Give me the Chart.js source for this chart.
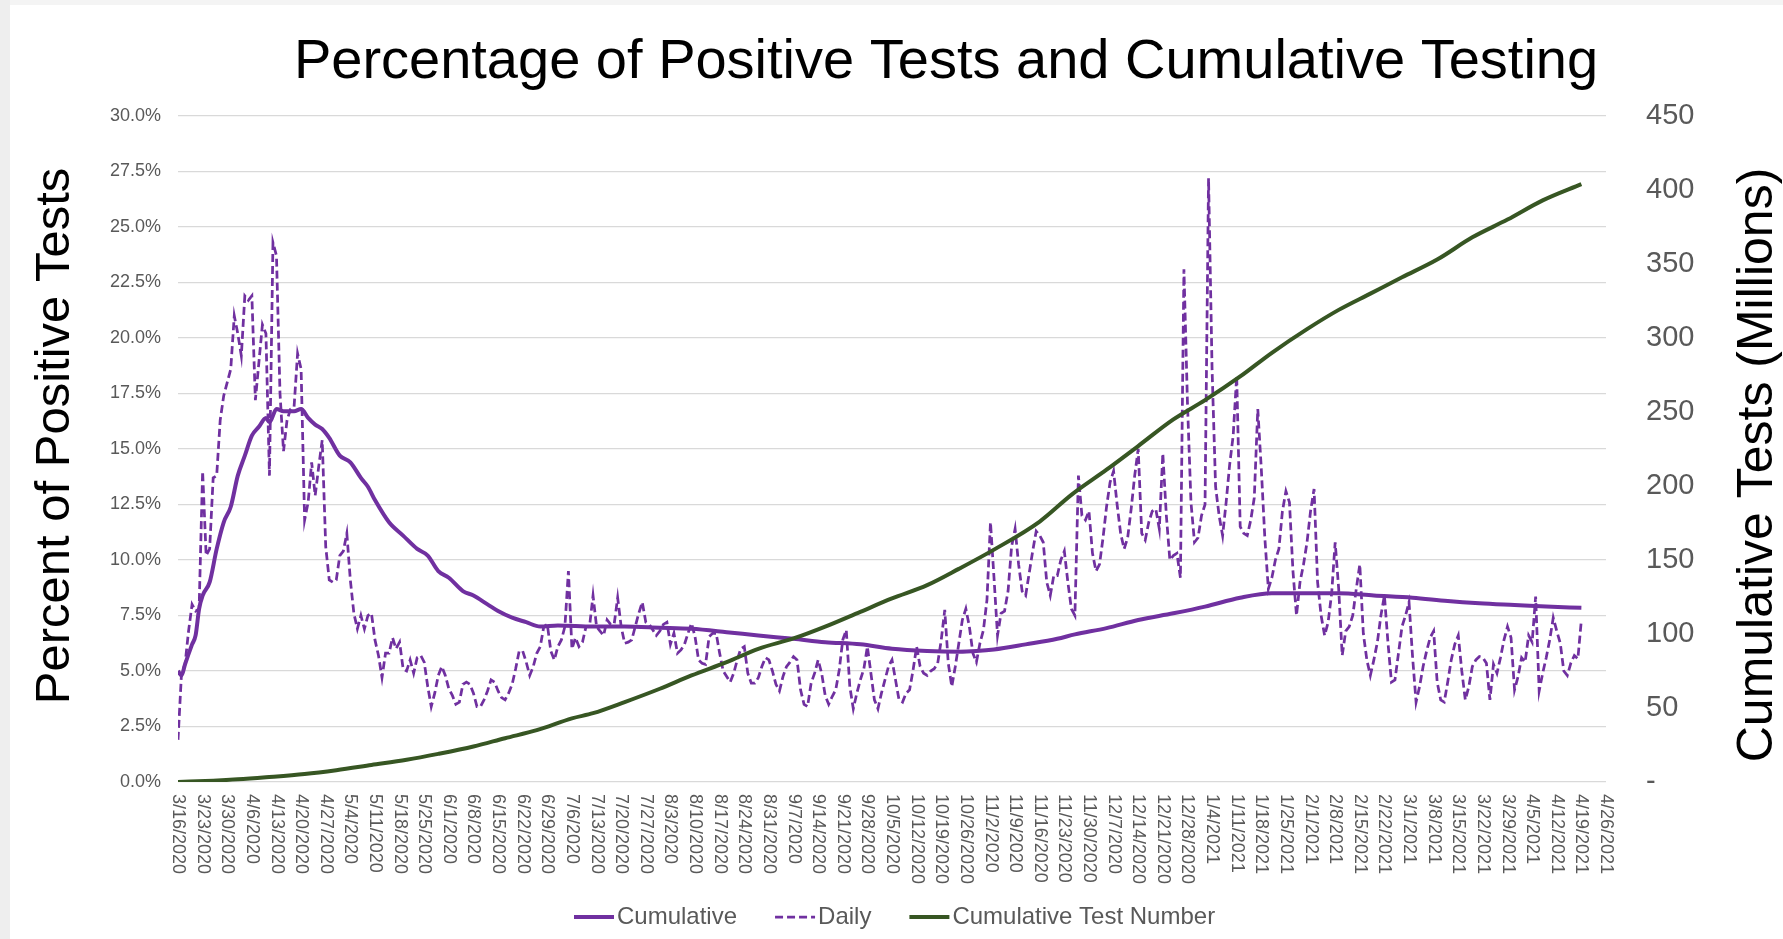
<!DOCTYPE html>
<html>
<head>
<meta charset="utf-8">
<title>Percentage of Positive Tests and Cumulative Testing</title>
<script src="https://cdn.jsdelivr.net/npm/chart.js@4.4.1/dist/chart.umd.min.js"></script>
<style>
  html, body { margin: 0; padding: 0; background: #fff; }
  canvas { display: block; }
</style>
</head>
<body>
<canvas id="testingChart" width="1783" height="939"></canvas>
<script>
const chartTitle = "Percentage of Positive Tests and Cumulative Testing";
const leftTitle = "Percent of Positive Tests";
const rightTitle = "Cumulative Tests (Millions)";

// weekly date labels, one every 7 days starting at day 0 = 3/16/2020
const tickLabels = [
  "3/16/2020", "3/23/2020", "3/30/2020", "4/6/2020", "4/13/2020", "4/20/2020", "4/27/2020",
  "5/4/2020", "5/11/2020", "5/18/2020", "5/25/2020", "6/1/2020", "6/8/2020", "6/15/2020",
  "6/22/2020", "6/29/2020", "7/6/2020", "7/13/2020", "7/20/2020", "7/27/2020", "8/3/2020",
  "8/10/2020", "8/17/2020", "8/24/2020", "8/31/2020", "9/7/2020", "9/14/2020", "9/21/2020",
  "9/28/2020", "10/5/2020", "10/12/2020", "10/19/2020", "10/26/2020", "11/2/2020", "11/9/2020",
  "11/16/2020", "11/23/2020", "11/30/2020", "12/7/2020", "12/14/2020", "12/21/2020", "12/28/2020",
  "1/4/2021", "1/11/2021", "1/18/2021", "1/25/2021", "2/1/2021", "2/8/2021", "2/15/2021",
  "2/22/2021", "3/1/2021", "3/8/2021", "3/15/2021", "3/22/2021", "3/29/2021", "4/5/2021",
  "4/12/2021", "4/19/2021", "4/26/2021"
];

// daily percent positive, one value per day from 3/16/2020 (day 0) to 4/19/2021 (day 399)
const dailyPct = [
  1.9, 4.9, 5.3, 6.8, 8.0, 7.7, 7.8, 14.0, 10.2, 10.5,
  13.7, 13.8, 16.3, 17.4, 18.0, 18.6, 21.0, 20.2, 19.2, 21.9,
  21.7, 21.9, 17.2, 18.9, 20.6, 20.2, 13.8, 24.3, 23.7, 17.5,
  14.9, 16.3, 16.8, 16.9, 19.3, 18.6, 11.8, 12.6, 14.4, 12.9,
  14.2, 15.4, 10.6, 9.1, 9.0, 9.1, 10.2, 10.4, 11.2, 9.1,
  7.6, 6.9, 7.5, 6.9, 7.5, 7.6, 6.4, 5.7, 4.7, 5.8,
  5.8, 6.5, 6.0, 6.3, 5.1, 5.0, 5.5, 4.9, 5.6, 5.7,
  5.4, 4.3, 3.4, 4.0, 4.8, 5.2, 4.8, 4.2, 3.9, 3.5,
  3.6, 4.4, 4.5, 4.4, 4.0, 3.4, 3.4, 3.7, 4.1, 4.6,
  4.5, 4.1, 3.8, 3.7, 4.0, 4.4, 5.1, 5.9, 5.9, 5.4,
  4.8, 5.2, 5.8, 6.1, 7.0, 7.1, 5.9, 5.5, 6.1, 6.4,
  7.0, 9.5, 6.0, 6.5, 6.1, 6.3, 7.0, 7.0, 8.4, 7.0,
  6.8, 6.6, 7.3, 7.1, 7.1, 8.3, 7.0, 6.25, 6.3, 6.4,
  7.0, 7.6, 8.1, 7.2, 7.1, 6.85, 6.6, 6.8, 7.1, 7.2,
  6.2, 6.7, 5.8, 5.95, 6.2, 6.7, 7.15, 6.55, 5.5, 5.35,
  5.3, 6.55, 6.7, 6.7, 5.8, 5.0, 4.75, 4.5, 4.9, 5.5,
  6.0, 6.1, 4.9, 4.45, 4.45, 4.7, 5.2, 5.6, 5.5, 5.0,
  4.4, 4.1, 4.75, 5.2, 5.4, 5.65, 5.5, 4.15, 3.5, 3.4,
  4.45, 4.9, 5.5, 4.9, 3.9, 3.5, 3.85, 4.15, 5.05, 6.4,
  6.85, 4.3, 3.3, 4.0, 4.6, 5.1, 6.1, 4.9, 3.7, 3.3,
  4.0, 4.6, 5.2, 5.5, 4.6, 3.7, 3.6, 4.0, 4.15, 5.05,
  6.1, 5.2, 4.9, 4.8, 5.0, 5.1, 5.35, 6.4, 7.75, 5.35,
  4.3, 5.2, 6.25, 7.3, 7.8, 7.0, 5.8, 5.4, 6.25, 6.85,
  8.2, 11.7, 9.2, 6.6, 7.6, 7.7, 8.6, 10.6, 11.4, 9.8,
  8.6, 8.4, 9.4, 10.4, 11.3, 11.1, 10.8, 9.0, 8.4, 9.3,
  9.3, 10.0, 10.4, 9.0, 7.8, 7.5, 13.8, 12.0, 11.8, 12.2,
  10.3, 9.5, 9.8, 11.0, 12.4, 13.5, 14.0, 12.5, 11.2, 10.5,
  11.0, 12.3, 13.8, 15.0, 11.2, 10.9, 11.7, 12.2, 12.3, 11.4,
  14.8, 12.0, 10.0, 10.2, 10.3, 9.2, 23.1, 17.1, 12.6, 10.8,
  11.0, 12.0, 12.5, 27.2, 18.6, 13.3, 12.0, 11.1, 12.6, 14.3,
  15.6, 18.3, 11.5, 11.2, 11.1, 11.8, 12.8, 16.8, 14.1, 11.0,
  8.7, 9.2, 10.0, 10.5, 12.2, 13.1, 12.6, 9.5, 7.5, 9.0,
  9.8, 10.8, 12.2, 13.2, 9.0, 7.5, 6.6, 7.2, 8.5, 10.8,
  8.7, 5.7, 6.8, 7.0, 7.5, 8.7, 9.8, 6.7, 5.5, 4.8,
  5.5, 6.3, 7.5, 8.4, 6.3, 4.5, 4.6, 5.8, 7.0, 7.5,
  8.1, 5.65, 3.6, 4.3, 5.2, 5.9, 6.5, 6.8, 4.5, 3.7,
  3.6, 4.5, 5.5, 6.2, 6.6, 5.0, 3.7, 4.3, 5.2, 5.5,
  5.65, 5.6, 5.35, 3.7, 5.3, 4.9, 5.6, 6.4, 7.0, 6.5,
  4.15, 4.75, 5.6, 5.4, 6.6, 6.3, 8.35, 4.1, 4.9, 5.6,
  6.4, 7.4, 6.8, 6.25, 5.0, 4.8, 5.35, 5.7, 5.55, 7.3
];

// cumulative percent positive, read at these days
const cumDays = [0, 1, 2, 4, 5, 6, 7, 9, 11, 13, 15, 17, 19, 21, 23, 25, 26, 28, 30, 33,
  35, 37, 39, 41, 43, 46, 49, 52, 54, 56, 60, 64, 68, 71, 74, 77, 81, 84, 88, 91,
  95, 99, 103, 108, 118, 127, 137, 146, 156, 165, 175, 184, 194, 203, 213, 222, 227, 232, 241, 250,
  255, 264, 273, 283, 292, 302, 311, 321, 330, 340, 351, 361, 370, 380, 389, 399];
const cumPct = [5.0, 4.8, 5.3, 6.2, 6.6, 7.8, 8.4, 9.0, 10.5, 11.7, 12.4, 13.8, 14.7, 15.6, 16.0, 16.4, 16.2, 16.8, 16.7, 16.7,
  16.8, 16.4, 16.1, 15.9, 15.5, 14.7, 14.4, 13.7, 13.3, 12.7, 11.7, 11.1, 10.5, 10.2, 9.5, 9.2, 8.6, 8.4, 8.0, 7.7,
  7.4, 7.2, 7.0, 7.05, 7.0, 7.0, 6.95, 6.9, 6.75, 6.6, 6.45, 6.3, 6.2, 6.0, 5.9, 5.87, 5.9, 5.97, 6.2, 6.45,
  6.65, 6.93, 7.3, 7.6, 7.9, 8.3, 8.5, 8.5, 8.5, 8.4, 8.3, 8.15, 8.05, 7.97, 7.9, 7.85];

// cumulative tests in millions, read at these days
const testDays = [0, 10, 17, 25, 36, 45, 55, 65, 74, 84, 93, 102, 112, 118, 127, 137, 146, 156, 165, 175,
  184, 194, 203, 213, 222, 232, 245, 254, 264, 273, 283, 292, 302, 311, 321, 330, 339, 348, 358, 368,
  378, 388, 399];
const testMillions = [0, 0.9, 1.8, 3.2, 5.4, 8, 11.5, 15, 19, 24, 29.6, 35, 43, 46.5, 54, 63, 72, 81, 90, 97,
  105, 115, 124, 133, 144, 157, 176, 194, 211, 227, 245, 258, 274, 290, 306, 319, 330, 341, 353, 368,
  380, 393, 404];

const PURPLE = "#7030A0";
const GREEN = "#375623";
const GREY = "#595959";
const FONT = '"Liberation Sans", Arial, sans-serif';

Chart.defaults.font.family = FONT;

function toPoints(xs, ys) {
  return ys.map((y, i) => ({ x: xs[i], y: y }));
}

// slide edge: thin grey strips on the left and top like the screenshot
const slideEdge = {
  id: "slideEdge",
  beforeDraw(chart) {
    const ctx = chart.ctx;
    ctx.save();
    ctx.fillStyle = "#fff";
    ctx.fillRect(0, 0, chart.width, chart.height);
    ctx.fillStyle = "#eeeeee";
    ctx.fillRect(0, 0, 10, chart.height);
    ctx.fillStyle = "#f4f4f4";
    ctx.fillRect(10, 0, chart.width - 10, 5);
    ctx.restore();
  }
};

// titles, rotated date labels and legend drawn straight on the canvas
const decorations = {
  id: "decorations",
  afterDraw(chart) {
    const ctx = chart.ctx;
    const area = chart.chartArea;
    const xScale = chart.scales.x;
    ctx.save();

    ctx.fillStyle = "#000";
    ctx.font = "56px " + FONT;
    ctx.textAlign = "center";
    ctx.textBaseline = "alphabetic";
    ctx.fillText(chartTitle, 946, 78);

    ctx.font = "49px " + FONT;
    ctx.textBaseline = "middle";
    ctx.save();
    ctx.translate(55, 436);
    ctx.rotate(-Math.PI / 2);
    ctx.fillText(leftTitle, 0, 0);
    ctx.restore();
    ctx.font = "50px " + FONT;
    ctx.save();
    ctx.translate(1758, 465);
    ctx.rotate(-Math.PI / 2);
    ctx.fillText(rightTitle, 0, 0);
    ctx.restore();

    // date labels read top to bottom
    ctx.fillStyle = GREY;
    ctx.font = "18px " + FONT;
    ctx.textAlign = "left";
    tickLabels.forEach((lab, i) => {
      const px = xScale.getPixelForValue(i * 7);
      ctx.save();
      ctx.translate(px, area.bottom + 12);
      ctx.rotate(Math.PI / 2);
      ctx.fillText(lab, 0, 0);
      ctx.restore();
    });

    // legend
    ctx.font = "24px " + FONT;
    let lx = 574;
    const ly = 917;
    chart.data.datasets.forEach((ds) => {
      ctx.strokeStyle = ds.borderColor;
      ctx.lineWidth = ds.borderWidth;
      ctx.setLineDash(ds.borderDash || []);
      ctx.beginPath();
      ctx.moveTo(lx, ly);
      ctx.lineTo(lx + 40, ly);
      ctx.stroke();
      ctx.setLineDash([]);
      ctx.fillStyle = GREY;
      ctx.fillText(ds.label, lx + 43, ly);
      lx += 43 + ctx.measureText(ds.label).width + 38;
    });

    ctx.restore();
  }
};

const config = {
  type: "line",
  data: {
    datasets: [
      {
        label: "Cumulative",
        data: toPoints(cumDays, cumPct),
        borderColor: PURPLE,
        borderWidth: 4,
        cubicInterpolationMode: "monotone",
        yAxisID: "y",
        order: 1
      },
      {
        label: "Daily",
        data: dailyPct.map((v, i) => ({ x: i, y: v })),
        borderColor: PURPLE,
        borderWidth: 2.75,
        borderDash: [8, 4],
        tension: 0,
        yAxisID: "y",
        order: 2
      },
      {
        label: "Cumulative Test Number",
        data: toPoints(testDays, testMillions),
        borderColor: GREEN,
        borderWidth: 4,
        cubicInterpolationMode: "monotone",
        yAxisID: "y1",
        order: 0
      }
    ]
  },
  options: {
    responsive: false,
    animation: false,
    devicePixelRatio: 1,
    layout: { padding: { top: 116, left: 0, right: 0, bottom: 0 } },
    elements: { point: { radius: 0 } },
    plugins: {
      legend: { display: false },
      title: { display: false },
      tooltip: { enabled: false }
    },
    scales: {
      x: {
        type: "linear",
        min: 0,
        max: 406,
        grid: { display: false },
        border: { display: false },
        ticks: { display: false, stepSize: 7 },
        afterFit(scale) { scale.height = 157; }
      },
      y: {
        position: "left",
        min: 0,
        max: 30,
        grid: { color: "#d9d9d9", lineWidth: 1.3, drawTicks: false },
        border: { display: false },
        ticks: {
          stepSize: 2.5,
          padding: 17,
          color: GREY,
          font: { size: 18 },
          callback: (v) => v.toFixed(1) + "%"
        },
        afterFit(scale) { scale.width = 178; }
      },
      y1: {
        position: "right",
        min: 0,
        max: 450,
        grid: { display: false, drawTicks: false },
        border: { display: false },
        ticks: {
          stepSize: 50,
          padding: 40,
          color: GREY,
          font: { size: 29 },
          callback: (v) => (v === 0 ? "-" : v)
        },
        afterFit(scale) { scale.width = 177; }
      }
    }
  },
  plugins: [slideEdge, decorations]
};

let myChart = new Chart(document.getElementById("testingChart"), config);
</script>
</body>
</html>
